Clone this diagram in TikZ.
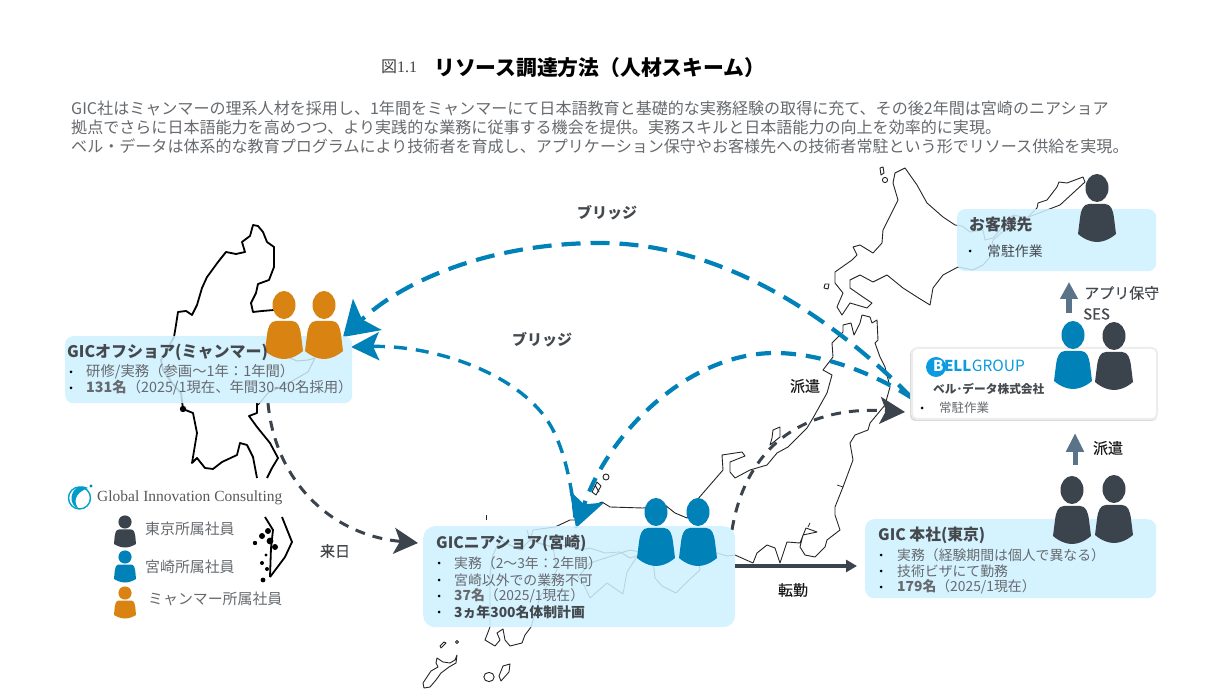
\documentclass[tikz,border=0pt]{standalone}
\usepackage{fontspec}
\setmainfont{Noto Sans CJK JP}
\newfontfamily\serifl{Liberation Serif}
\newfontfamily\medfont[FakeBold=0.35]{Noto Sans CJK JP}
\usetikzlibrary{arrows.meta}
\definecolor{cblue}{HTML}{0082B8}
\definecolor{cdark}{HTML}{3B444C}
\definecolor{corange}{HTML}{D98312}
\definecolor{cbox}{HTML}{CFF0FF}
\definecolor{cslate}{HTML}{5A7389}
\definecolor{ctext}{HTML}{666A6E}
\definecolor{chead}{HTML}{44494E}
\definecolor{cbell}{HTML}{0A9BE0}
\tikzset{
  person/.pic={
    \fill[pic actions] (0,0) ellipse (11.5 and 14);
    \fill[pic actions] (-8,16) -- (8,16) .. controls (14,16) and (16,22) .. (17,30) -- (19,46)
      .. controls (12,52) and (5,54) .. (0,54) .. controls (-5,54) and (-12,52) .. (-19,46)
      -- (-17,30) .. controls (-16,22) and (-14,16) .. (-8,16) -- cycle;
  },
  smallperson/.pic={
    \fill[pic actions] (0,0) circle (6.6);
    \fill[pic actions] (-6,7.5) -- (6,7.5) .. controls (9,7.5) and (10,11) .. (10.3,14) -- (11,22)
      .. controls (7,24.5) and (3,25.5) .. (0,25.5) .. controls (-3,25.5) and (-7,24.5) .. (-11,22)
      -- (-10.3,14) .. controls (-10,11) and (-9,7.5) .. (-6,7.5) -- cycle;
  },
  infobox/.style={fill=cbox,fill opacity=.86,draw=none,anchor=north west,inner sep=0pt},
  txt/.style={anchor=west,inner sep=0pt,text=ctext,font=\fontsize{13.85}{15}\selectfont},
  txtm/.style={anchor=west,inner sep=0pt,text=ctext,font=\fontsize{14.35}{15}\selectfont},
  hd/.style={anchor=west,inner sep=0pt,text=chead,font=\fontsize{15.8}{17}\selectfont\bfseries},
  lab/.style={inner sep=0pt,text=chead,font=\fontsize{15}{16}\selectfont\bfseries},
  labk/.style={inner sep=0pt,text=black!90,font=\fontsize{15}{16}\selectfont\medfont},
  para/.style={anchor=west,inner sep=0pt,text=ctext,font=\fontsize{16.05}{18}\selectfont},
  bul/.style={circle,fill=black,inner sep=0pt,minimum size=3pt},
  jp/.style={draw=black!85,line width=.9pt,line join=round,fill=none},
  mm/.style={draw=black,line width=1.8pt,line join=round},
  bluearc/.style={draw=cblue,line width=4.2pt},
  darkarc/.style={draw=cdark,line width=3pt,dash pattern=on 10pt off 8pt},
}
\begin{document}
\begin{tikzpicture}[x=1pt,y=-1pt]
\useasboundingbox[fill=white] (0,0) rectangle (1219,700);

% ---------- Myanmar
\path[mm] (183,409) -- (181,393) -- (172,383) -- (163,370) -- (161,360) -- (168,348) -- (174,337) -- (176,325) -- (178,312) -- (186,311) -- (192,315) -- (197,305) -- (202,288) -- (207,277) -- (210,273) -- (218,262) -- (226,252) -- (236,254) -- (245,252) -- (242,242) -- (250,236) -- (253,225) -- (258,226) -- (263,232) -- (267,242) -- (274,247) -- (274,267) -- (269,280) -- (258,284) -- (256,293) -- (251,303) -- (253,312) -- (262,311) -- (274,310);
\path[mm,line width=1pt] (290,358) -- (297,361) -- (308,360) -- (315,358) -- (308,372) -- (292,381) -- (268,393) -- (258,405);
\path[mm] (257,403) -- (257,413) -- (249,416) -- (257,427) -- (270,443) -- (278,458) -- (272,468) -- (267,478);
\path[mm] (183,409) -- (193,413) -- (197,433) -- (192,463) -- (197,458) -- (205,468) -- (213,469) -- (222,462) -- (237,455) -- (240,443) -- (247,445) -- (253,457) -- (257,478);
\path[mm] (265,517) -- (273,530) -- (271,548) -- (270,577);
\path[mm] (282,517) -- (292,542) -- (285,557) -- (270,577);
\fill (183,409) circle (3.2);
\fill (268,531) circle (3) (262,536) circle (3) (270,541) circle (3.4) (275,547) circle (3) (255,543) circle (2.2) (266,555) circle (1.6) (262,563) circle (2) (267,569) circle (2) (263,580) circle (2.4);

% ---------- Japan
% Hokkaido
\path[jp] (895,173) -- (905,168) -- (917,185) -- (927,203) -- (943,217) -- (955,225) -- (962,226) -- (970,232) -- (983,230) -- (985,240) -- (993,238) -- (1013,215) -- (1027,218) -- (1037,208) -- (1038,203) -- (1047,200) -- (1057,187) -- (1059,182) -- (1067,183) -- (1083,177) -- (1085,182) -- (1060,205) -- (1013,223) -- (993,240) -- (990,257) -- (983,265) -- (973,270) -- (958,267) -- (943,275) -- (933,288) -- (930,305) -- (917,297) -- (903,288) -- (887,275) -- (873,282) -- (860,275) -- (850,280) -- (850,288) -- (863,297) -- (872,303) -- (867,308) -- (850,303) -- (842,315) -- (837,307) -- (843,293) -- (835,283) -- (835,272) -- (852,260) -- (857,255) -- (853,247) -- (860,245) -- (873,253) -- (882,243) -- (883,230) -- (893,210) -- (898,200) -- (893,183) -- cycle;
\path[jp] (880,168) -- (883,167) -- (884,173) -- (881,175) -- cycle;
\path[jp] (885,180) circle (2.6);
\path[jp] (825,284) -- (829,284) -- (828,289) -- (824,288) -- cycle;
% Honshu
\path[jp] (843,325) -- (851,323) -- (854,335) -- (860,323) -- (862,315) -- (870,317) -- (872,323) -- (877,320) -- (878,340) -- (875,343) -- (880,357) -- (885,367) -- (890,387) -- (885,405) -- (870,423) -- (868,430) -- (855,435) -- (850,443) -- (853,460) -- (843,487) -- (835,507) -- (835,515) -- (840,530) -- (827,540) -- (825,547) -- (815,557) -- (805,555) -- (800,547) -- (803,535) -- (817,532) -- (806,528) -- (800,543) -- (787,542) -- (780,563) -- (775,548) -- (767,545) -- (757,553) -- (753,563) -- (735,555) -- (727,556) -- (717,553) -- (708,556) -- (697,553) -- (700,570) -- (689,580) -- (676,593) -- (662,586) -- (655,578) -- (653,560) -- (640,555) -- (630,558) -- (620,552) -- (605,553) -- (590,548) -- (580,550) -- (570,545) -- (552,547) -- (535,542) -- (530,540) -- (533,530) -- (555,527) -- (570,520) -- (577,520) -- (590,507) -- (602,502) -- (610,507) -- (643,508) -- (665,505) -- (675,513) -- (687,518) -- (697,500) -- (723,470) -- (722,455) -- (742,452) -- (745,456) -- (730,462) -- (730,472) -- (735,478) -- (750,470) -- (767,465) -- (777,453) -- (788,447) -- (807,428) -- (813,418) -- (827,393) -- (832,375) -- (823,370) -- (833,357) -- (832,343) -- (843,332) -- cycle;
\path[jp,line width=.7pt] (837,485) -- (843,487);
\path[jp,line width=.7pt] (810,523) -- (808,527);
\path[jp,line width=.7pt] (486,515) -- (486,520);
% Sado
\path[jp] (780,427) -- (773,430) -- (772,438) -- (770,445) -- (780,437) -- cycle;
% Oki
\path[jp,fill=white] (606,477) circle (3);
\path[jp] (597,482) -- (601,486) -- (596,495) -- (592,492) -- cycle (595,485) -- (599,492);
% Shikoku
\path[jp] (578,577) -- (590,563) -- (630,550) -- (640,552) -- (627,572) -- (623,594) -- (607,583) -- (590,598) -- (583,583) -- cycle;
% Kyushu
\path[jp] (527,530) -- (530,540) -- (520,550) -- (500,540) -- (493,555) -- (490,575) -- (490,627) -- (485,640) -- (495,646) -- (500,640) -- (497,633) -- (503,629) -- (505,640) -- (510,646) -- (522,643) -- (525,635) -- (531,627) -- (540,597) -- (557,570) -- (553,547) -- (535,542);
% Southern islands
\path[jp] (510,664) -- (509,672) -- (501,681) -- (499,676) -- (503,666) -- cycle;
\path[jp] (489,677) ellipse (5.2 and 4.6);
\path[jp] (457,655) -- (455,660) -- (450,663) -- (443,662) -- (437,658) -- (436,663) -- (438,667) -- (431,671) -- (427,677) -- (423,683) -- (424,688) -- (430,687) -- (436,680) -- (441,673) -- (449,667) -- (456,663) -- cycle;
\path[jp] (444,642) -- (446,643) -- (441,648) -- (440,646) -- cycle;
\path[jp] (457,642) circle (1.6);

% ---------- connector end points
\coordinate (aS) at (912,398);
\coordinate (aM) at (600,243);
\coordinate (aE) at (343,337);
\coordinate (bE) at (576,528);
\coordinate (bM) at (775,353);
\coordinate (cE) at (351,347);
\coordinate (cM) at (545,417);
\coordinate (dS) at (268,403);
\coordinate (dE) at (418,543);
\coordinate (eS) at (732,530);
\coordinate (eE) at (905,412);
\coordinate (fS) at (735,566);
\coordinate (fE) at (857,566);
\coordinate (gS) at (1075,465);
\coordinate (gE) at (1075,433);
\coordinate (hS) at (1069,313);
\coordinate (hE) at (1069,282);

% ---------- curved connectors
\draw[bluearc,dash pattern=on 19pt off 10pt,-{Stealth[length=33pt,width=42pt,inset=7pt]}] (aS) .. controls (830,315) and (720,243) .. (aM) .. controls (500,243) and (410,275) .. (aE);
\draw[bluearc,dash pattern=on 15pt off 10pt,-{Stealth[length=33pt,width=36pt,inset=8pt]}] (aS) .. controls (860,365) and (810,353) .. (bM) .. controls (690,353) and (610,430) .. (bE);
\draw[bluearc,line width=3.4pt,dash pattern=on 13pt off 9pt,{Stealth[length=28pt,width=28pt,inset=6pt]}-] (cE) .. controls (430,345) and (510,370) .. (cM) .. controls (562,440) and (572,480) .. (bE);
\draw[darkarc,-{Stealth[length=24pt,width=26pt,inset=6pt]}] (dS) .. controls (275,480) and (330,535) .. (dE);
\draw[darkarc,-{Stealth[length=25pt,width=27pt,inset=6pt]}] (eS) .. controls (745,450) and (800,405) .. (eE);

% ---------- info boxes
\node[infobox,minimum width=287pt,minimum height=67pt,rounded corners=8pt] (bMyanmar) at (65,336) {};
\node[infobox,minimum width=312pt,minimum height=101pt,rounded corners=12pt] (bMiyazaki) at (423,526) {};
\node[infobox,minimum width=291pt,minimum height=79pt,rounded corners=9pt] (bTokyo) at (865,519) {};
\node[infobox,minimum width=199pt,minimum height=62pt,rounded corners=8pt] (bCustomer) at (957,209) {};
\fill[black!14,rounded corners=5pt] (910,349) rectangle (1157,421);
\node[anchor=north west,inner sep=0pt,fill=white,draw=black!7,line width=2pt,rounded corners=5pt,minimum width=245pt,minimum height=71pt] (bBell) at (911,347) {};

% ---------- straight connectors
\draw[draw=cdark,line width=3.6pt,-{Triangle[length=11pt,width=12pt]}] (fS) -- (fE);
\draw[draw=cslate,line width=5pt,-{Triangle[length=19pt,width=17pt]}] (gS) -- (gE);
\draw[draw=cslate,line width=6pt,-{Triangle[length=17pt,width=17pt]}] (hS) -- (hE);

% ---------- people
\pic[fill=corange] (pm1) at (284,305) {person};
\pic[fill=corange] (pm2) at (324,305) {person};
\pic[fill=cblue] (pz1) at (656,512) {person};
\pic[fill=cblue] (pz2) at (698,512) {person};
\pic[fill=cdark] (pc1) at (1097,188) {person};
\pic[fill=cblue] (pb1) at (1073,335) {person};
\pic[fill=cdark] (pb2) at (1114,336) {person};
\pic[fill=cdark] (pt1) at (1072,490) {person};
\pic[fill=cdark] (pt2) at (1114,489) {person};
\pic[fill=cdark] (pl1) at (125,522) {smallperson};
\pic[fill=cblue] (pl2) at (125,557) {smallperson};
\pic[fill=corange] (pl3) at (125,593) {smallperson};

% ---------- title and lead text
\node[anchor=west,inner sep=0pt,text=black!75,font=\fontsize{16}{18}\selectfont] (tnum) at (381,67) {図{\serifl 1.1}};
\node[anchor=west,inner sep=0pt,text=black,font=\fontsize{20.8}{24}\selectfont\bfseries] (title) at (434,68) {リソース調達方法（人材スキーム）};
\node[para] (p1) at (71,108) {GIC社はミャンマーの理系人材を採用し、1年間をミャンマーにて日本語教育と基礎的な実務経験の取得に充て、その後2年間は宮崎のニアショア};
\node[para] (p2) at (71,127) {拠点でさらに日本語能力を高めつつ、より実践的な業務に従事する機会を提供。実務スキルと日本語能力の向上を効率的に実現。};
\node[para] (p3) at (71,146) {ベル・データは体系的な教育プログラムにより技術者を育成し、アプリケーション保守やお客様先への技術者常駐という形でリソース供給を実現。};

% ---------- Myanmar box text
\node[hd,font=\fontsize{16}{17}\selectfont\bfseries] (tm0) at (67,352) {GICオフショア(ミャンマー)};
\node[bul] (bm1) at (71,372) {};
\node[txtm] (tm1) at (86,372) {研修/実務（参画～1年：1年間）};
\node[bul] (bm2) at (71,388) {};
\node[txtm] (tm2) at (86,388) {\textbf{131名}（2025/1現在、年間30-40名採用）};

% ---------- Miyazaki box text
\node[hd] (tz0) at (436,543) {GICニアショア(宮崎)};
\node[bul] (bz1) at (439,563) {};
\node[txt] (tz1) at (454,563) {実務（2～3年：2年間）};
\node[bul] (bz2) at (439,580) {};
\node[txt] (tz2) at (454,580) {宮崎以外での業務不可};
\node[bul] (bz3) at (439,596) {};
\node[txt] (tz3) at (454,596) {\textbf{37名}（2025/1現在）};
\node[bul] (bz4) at (439,612) {};
\node[txt,text=chead] (tz4) at (454,612) {\textbf{3ヵ年300名体制計画}};

% ---------- Tokyo box text
\node[hd] (tt0) at (878,535) {GIC 本社(東京)};
\node[bul] (bt1) at (881,555) {};
\node[txt] (tt1) at (897,555) {実務（経験期間は個人で異なる）};
\node[bul] (bt2) at (881,571) {};
\node[txt] (tt2) at (897,571) {技術ビザにて勤務};
\node[bul] (bt3) at (881,587) {};
\node[txt] (tt3) at (897,587) {\textbf{179名}（2025/1現在）};

% ---------- Customer box text
\node[hd] (tc0) at (969,225) {お客様先};
\node[bul] (bc1) at (970,251) {};
\node[txt,text=chead] (tc1) at (987,251) {常駐作業};

% ---------- Bell box content
\fill[cbell] (936,367) circle (10);
\node[anchor=west,inner sep=0pt,text=white,font=\fontsize{15}{17}\selectfont\bfseries] (lgB) at (933,366) {B};
\node[anchor=west,inner sep=0pt,text=cbell,font=\fontsize{15}{17}\selectfont\bfseries] (lgE) at (lgB.east) {ELL};
\node[anchor=west,inner sep=0pt,text=cbell,font=\fontsize{15.5}{17}\selectfont] (lgG) at (lgE.east) {GROUP};
\node[anchor=west,inner sep=0pt,text=chead,font=\fontsize{11.7}{14}\selectfont\bfseries] (tb0) at (933,389) {ベル･データ株式会社};
\node[bul] (bb1) at (922,408) {};
\node[txt,font=\fontsize{12.5}{14}\selectfont] (tb1) at (939,408) {常駐作業};

% ---------- connector labels
\node[lab] (lb1) at (607,213) {ブリッジ};
\node[lab] (lb2) at (542,340) {ブリッジ};
\node[labk] (lb3) at (805,386) {派遣};
\node[labk,text=chead] (lb4) at (335,551) {来日};
\node[labk] (lb5) at (793,590) {転勤};
\node[labk] (lb6) at (1108,448) {派遣};
\node[labk,anchor=west,text=chead] (lb7) at (1084,293) {アプリ保守};
\node[labk,anchor=west,text=chead] (lb8) at (1083,314) {SES};

% ---------- legend
\draw[cblue!75!cyan,line width=1.4pt] (79.5,498) circle (11);
\fill[cblue!80!cyan] (79,487) .. controls (70,490) and (68,505) .. (79,509) .. controls (73,503) and (74,493) .. (88,488) .. controls (84,486) and (81,486) .. (79,487) -- cycle;
\fill[cblue] (91,486) circle (1.7);
\node[anchor=west,inner sep=0pt,text=black!65,font=\serifl\fontsize{15.5}{17}\selectfont] (lgText) at (97,498) {Global Innovation Consulting};
\node[txt,font=\fontsize{14.9}{16}\selectfont] (l1) at (145,529) {東京所属社員};
\node[txt,font=\fontsize{14.9}{16}\selectfont] (l2) at (145,567) {宮崎所属社員};
\node[txt,font=\fontsize{14.9}{16}\selectfont] (l3) at (148,599) {ミャンマー所属社員};
\end{tikzpicture}
\end{document}
